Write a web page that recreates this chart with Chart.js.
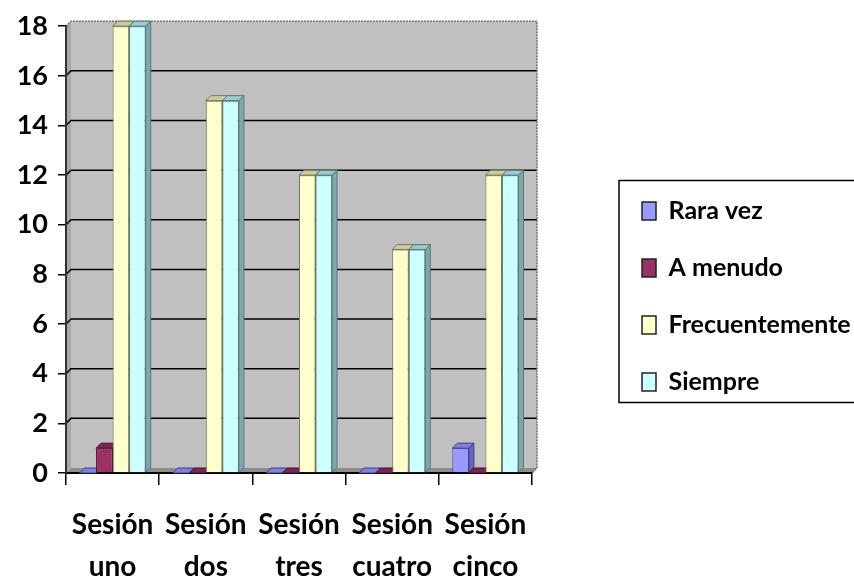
<!DOCTYPE html>
<html>
<head>
<meta charset="utf-8">
<script src="https://cdn.jsdelivr.net/npm/chart.js@4.4.1/dist/chart.umd.min.js"></script>
<style>
html,body{margin:0;padding:0;background:#fff;}
#wrap{width:854px;height:582px;position:relative;}
</style>
</head>
<body>
<div id="wrap"><canvas id="c" width="854" height="582"></canvas></div>
<script>
// ---- data ----
const categories = [["Sesión","uno"],["Sesión","dos"],["Sesión","tres"],["Sesión","cuatro"],["Sesión","cinco"]];
const seriesNames = ["Rara vez","A menudo","Frecuentemente","Siempre"];
const raraVez = [0,0,0,0,1];
const aMenudo = [1,0,0,0,0];
const frecuentemente = [18,15,12,9,12];
const siempre = [18,15,12,9,12];
const yMin = 0, yMax = 18, yStep = 2;

// ---- styles ----
const FONT = "Lato, 'DejaVu Sans Condensed', sans-serif";
const DEPTH = 5;
const styles = [
  {fill:'#9999FF', border:'#3c3c8c', top:'#8080E0', side:'#6666C0'},
  {fill:'#993366', border:'#4a1030', top:'#7a2550', side:'#6a1a44'},
  {fill:'#FFFFCC', border:'#777760', top:'#CCCC99', side:'#AAAA80'},
  {fill:'#CCFFFF', border:'#557777', top:'#99CCCC', side:'#7FA9A9'}
];
const seriesData = [raraVez, aMenudo, frecuentemente, siempre];

const wallPlugin = {
  id:'wall',
  beforeDraw(chart){
    const {ctx, chartArea:a} = chart;
    const d = DEPTH;
    const ys = chart.scales.y;
    ctx.save();
    ctx.fillStyle = '#C0C0C0';
    ctx.fillRect(a.left + d, a.top - d, a.right - a.left, a.bottom - a.top);
    ctx.fillStyle = '#A8A8A8';
    ctx.beginPath();
    ctx.moveTo(a.left, a.top); ctx.lineTo(a.left + d, a.top - d);
    ctx.lineTo(a.left + d, a.bottom - d); ctx.lineTo(a.left, a.bottom);
    ctx.closePath(); ctx.fill();
    ctx.fillStyle = '#8C8C8C';
    ctx.beginPath();
    ctx.moveTo(a.left, a.bottom); ctx.lineTo(a.left + d, a.bottom - d);
    ctx.lineTo(a.right + d, a.bottom - d); ctx.lineTo(a.right, a.bottom);
    ctx.closePath(); ctx.fill();
    ctx.strokeStyle = '#000';
    ctx.lineWidth = 1.5;
    ys.ticks.forEach(t => {
      if (t.value >= yMax || t.value <= yMin) return;
      const y = ys.getPixelForValue(t.value);
      ctx.beginPath();
      ctx.moveTo(a.left, y);
      ctx.lineTo(a.left + d, y - d);
      ctx.lineTo(a.right + d, y - d);
      ctx.stroke();
    });
    ctx.strokeStyle = '#707070';
    ctx.lineWidth = 1.5;
    ctx.setLineDash([2,1]);
    ctx.beginPath();
    ctx.moveTo(a.left, a.top);
    ctx.lineTo(a.left + d, a.top - d);
    ctx.lineTo(a.right + d, a.top - d);
    ctx.lineTo(a.right + d, a.bottom - d);
    ctx.lineTo(a.right, a.bottom);
    ctx.stroke();
    ctx.setLineDash([]);
    ctx.restore();
  },
  beforeDatasetsDraw(chart){
    const ctx = chart.ctx; const d = DEPTH;
    ctx.save();
    ctx.lineWidth = 1;
    chart.data.datasets.forEach((ds, i) => {
      const st = styles[i];
      const meta = chart.getDatasetMeta(i);
      meta.data.forEach(el => {
        const p = el.getProps(['x','y','base','width'], true);
        const l = p.x - p.width/2, r = p.x + p.width/2;
        const top = Math.min(p.y, p.base), bot = Math.max(p.y, p.base);
        ctx.strokeStyle = st.border;
        ctx.fillStyle = st.side;
        ctx.beginPath();
        ctx.moveTo(r, top); ctx.lineTo(r + d, top - d);
        ctx.lineTo(r + d, bot - d); ctx.lineTo(r, bot);
        ctx.closePath(); ctx.fill(); ctx.stroke();
        ctx.fillStyle = st.top;
        ctx.beginPath();
        ctx.moveTo(l, top); ctx.lineTo(l + d, top - d);
        ctx.lineTo(r + d, top - d); ctx.lineTo(r, top);
        ctx.closePath(); ctx.fill(); ctx.stroke();
      });
    });
    ctx.restore();
  },
  afterDraw(chart){
    const lg = chart.legend;
    if (!lg || !lg.legendHitBoxes.length) return;
    const hb = lg.legendHitBoxes;
    const first = hb[0], last = hb[hb.length-1];
    const ctx = chart.ctx;
    ctx.save();
    ctx.strokeStyle = '#000';
    ctx.lineWidth = 1.5;
    const left = first.left - 23;
    const top = first.top - 18;
    const bottom = last.top + last.height + 8;
    ctx.strokeRect(left, top, 860 - left, bottom - top);
    ctx.restore();
  },
  afterInit(chart){
    const lg = chart.legend;
    if (!lg) return;
    const orig = lg.fit;
    lg.fit = function(){
      orig.call(this);
      this.width = 244;
      if (this.columnSizes && this.columnSizes[0]) this.columnSizes[0].height += 14;
    };
  }
};

const datasets = seriesNames.map((name, i) => ({
  label: name,
  data: seriesData[i],
  backgroundColor: styles[i].fill,
  borderColor: styles[i].border,
  borderWidth: 1,
  categoryPercentage: 0.71,
  barPercentage: 1.0
}));

new Chart(document.getElementById('c'), {
  type: 'bar',
  data: { labels: categories, datasets },
  options: {
    responsive: false,
    animation: false,
    devicePixelRatio: 1,
    layout: { padding: { top: 25, left: 0, right: 0, bottom: 0 } },
    plugins: {
      tooltip: { enabled: false },
      legend: {
        position: 'right',
        labels: {
          color: '#000',
          font: { family: FONT, size: 25, weight: 'bold' },
          boxWidth: 14,
          boxHeight: 18,
          padding: 32,
          generateLabels(chart){
            return chart.data.datasets.map((ds, i) => ({
              text: ds.label, fillStyle: styles[i].fill, strokeStyle: '#222',
              lineWidth: 1.5, hidden: false, datasetIndex: i, fontColor: '#000'
            }));
          }
        }
      }
    },
    scales: {
      x: {
        offset: true,
        grid: { offset: true, drawOnChartArea: false, drawTicks: true, tickLength: 12, color: '#000', lineWidth: 1.5 },
        border: { display: true, color: '#000', width: 2 },
        ticks: { color: '#000', font: { family: FONT, size: 28, weight: 'bold', lineHeight: 1.5 }, padding: 19, maxRotation: 0, autoSkip: false },
        afterFit(s){ s.height = 109; }
      },
      y: {
        min: yMin, max: yMax,
        ticks: { stepSize: yStep, color: '#000', font: { family: FONT, size: 27, weight: 'bold' }, padding: 10 },
        grid: { drawOnChartArea: false, drawTicks: true, tickLength: 8, color: '#000', lineWidth: 1.5 },
        border: { display: true, color: '#333', width: 2 },
        afterFit(s){ s.width = 66; }
      },
      y2: {
        position: 'right',
        display: true,
        min: yMin, max: yMax,
        ticks: { display: false },
        grid: { display: false, drawTicks: false },
        border: { display: false },
        afterFit(s){ s.width = 78; }
      }
    }
  },
  plugins: [wallPlugin]
});
</script>
</body>
</html>
